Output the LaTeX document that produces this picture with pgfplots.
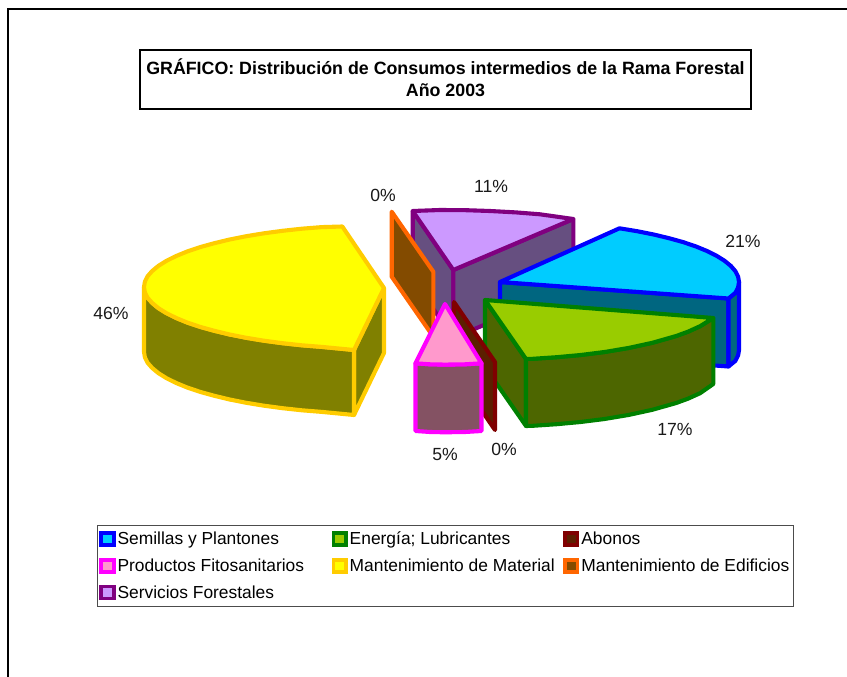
\documentclass[border=0pt]{standalone}
\usepackage{pgfplots}
\pgfplotsset{compat=1.18}
\usepackage{fontspec}
\setmainfont{Liberation Sans}
\definecolor{yS}{HTML}{FFCC00}\definecolor{yT}{HTML}{FFFF00}\definecolor{yD}{HTML}{808000}
\definecolor{bS}{HTML}{0000FF}\definecolor{bT}{HTML}{00CCFF}\definecolor{bD}{HTML}{006680}
\definecolor{gS}{HTML}{008000}\definecolor{gT}{HTML}{99CC00}\definecolor{gD}{HTML}{4D6600}
\definecolor{rS}{HTML}{800000}\definecolor{rD}{HTML}{5C1F00}
\definecolor{pS}{HTML}{FF00FF}\definecolor{pT}{HTML}{FF99CC}\definecolor{pD}{HTML}{845263}
\definecolor{vS}{HTML}{800080}\definecolor{vT}{HTML}{CC99FF}\definecolor{vD}{HTML}{664F80}
\definecolor{oS}{HTML}{FF6600}\definecolor{oD}{HTML}{834B00}
\pgfplotsset{
  face/.style 2 args={forget plot,draw=#1,fill=#2,line width=4.1pt,line join=round},
  swatch/.style 2 args={draw=#1,fill=#2,line width=3.6pt},
  legend image code/.code={\draw[#1] (2.5pt,-6pt) rectangle (15pt,6pt);},
}
\begin{document}
\begin{tikzpicture}
\begin{axis}[
  scale only axis,width=847pt,height=677pt,
  xmin=0,xmax=847,ymin=0,ymax=677,y dir=reverse,
  axis lines=none,
  legend columns=3,
  legend cell align=left,
  legend style={at={(axis cs:97,525)},anchor=north west,draw=black!70,line width=0.8pt,
    font=\fontsize{17.4}{20}\selectfont,
    inner xsep=2pt,inner ysep=4.7pt,
    /tikz/row sep=8.5pt,
    /tikz/column 2/.style={column sep=25.5pt},
    /tikz/column 4/.style={column sep=6.5pt}},
]
% page background
\addplot[forget plot,draw=none,fill=white] coordinates {(0,0)(847,0)(847,677)(0,677)} -- cycle;
% outer frame
\addplot[forget plot,draw=black,line width=2.4pt] coordinates {(8,677)(8,9)(847,9)};
% Servicios Forestales 11%
\addplot[face={vS}{vD}] coordinates {(412.7,211)(453.3,270)(453.3,338)(412.7,279)} -- cycle;
\addplot[face={vS}{vD}] coordinates {(453.3,270)(573.3,219)(573.3,287)(453.3,338)} -- cycle;
\addplot[face={vS}{vT}] coordinates {(453.3,270)(412.7,211)(440,210)(466,210.2)(490,211)(516,212.4)(540,214.3)(573.3,219)} -- cycle;
% Mantenimiento de Edificios 0%
\addplot[face={oS}{oD}] coordinates {(391.7,211.7)(433.3,271.7)(433.3,336.7)(391.7,276.7)} -- cycle;
% Semillas y Plantones 21%
\addplot[face={bS}{bD}] coordinates {(500,282)(728.5,298.5)(728.5,366.5)(500,350)} -- cycle;
\addplot[face={bS}{bD}] coordinates {(728.5,298.5)(735.4,292.8)(738.1,287.4)(739,282)(739,350)(738.1,355.4)(735.4,360.8)(728.5,366.5)} -- cycle;
\addplot[face={bS}{bT}] coordinates {(500,282)(619.5,228.3)(637.1,231.2)(653.7,234.5)(669,238.2)(683.1,242.1)(695.8,246.4)(707,251)(716.6,255.8)(724.6,260.8)(730.9,266)(735.4,271.2)(738.1,276.6)(739,282)(738.1,287.4)(735.4,292.8)(728.5,298.5)} -- cycle;
% Energia; Lubricantes 17%
\addplot[face={gS}{gD}] coordinates {(485,300)(526,359)(526,426)(485,367)} -- cycle;
\addplot[face={gS}{gD}] coordinates {(526,359)(532.8,358.8)(556.7,357.2)(580.6,355)(604.5,352)(628.4,348)(652.3,342.8)(676.2,336)(688.2,331.6)(700.1,326.2)(713.3,318)(713.3,384)(700.1,393.2)(688.2,398.6)(676.2,403)(652.3,409.8)(628.4,415)(604.5,419)(580.6,422)(556.7,424.2)(532.8,425.8)(526,426)} -- cycle;
\addplot[face={gS}{gT}] coordinates {(485,300)(713.3,318)(700.1,326.2)(688.2,331.6)(676.2,336)(652.3,342.8)(628.4,348)(604.5,352)(580.6,355)(556.7,357.2)(532.8,358.8)(526,359)} -- cycle;
% Abonos 0%
\addplot[face={rS}{rD}] coordinates {(454,302)(495,362)(495,430)(454,370)} -- cycle;
% Productos Fitosanitarios 5%
\addplot[face={pS}{pD}] coordinates {(415.5,363.3)(430,364.3)(445,364.6)(465,364.3)(481.5,363.3)(481.5,431)(465,432)(445,432.3)(430,432)(415.5,431)} -- cycle;
\addplot[face={pS}{pT}] coordinates {(445,304)(481.5,363.3)(465,364.3)(445,364.6)(430,364.3)(415.5,363.3)} -- cycle;
% Mantenimiento de Material 46%
\addplot[face={yS}{yD}] coordinates {(354,350)(384,288)(384,353)(354,415)} -- cycle;
\addplot[face={yS}{yD}] coordinates {(144,287)(144.9,292.4)(147.6,297.8)(152.2,303)(158.5,308.2)(166.5,313.2)(176.2,318)(187.4,322.6)(200.2,326.9)(214.3,330.8)(229.7,334.5)(246.3,337.8)(264,340.7)(282.6,343.2)(301.9,345.3)(321.9,346.9)(354,350)(354,415)(321.9,411.9)(301.9,410.3)(282.6,408.2)(264,405.7)(246.3,402.8)(229.7,399.5)(214.3,395.8)(200.2,391.9)(187.4,387.6)(176.2,383)(166.5,378.2)(158.5,373.2)(152.2,368)(147.6,362.8)(144.9,357.4)(144,352)} -- cycle;
\addplot[face={yS}{yT}] coordinates {(384,288)(342.3,226.5)(321.9,227.1)(301.9,228.7)(282.6,230.8)(264,233.3)(246.3,236.2)(229.7,239.5)(214.3,243.2)(200.2,247.1)(187.4,251.4)(176.2,256)(166.5,260.8)(158.5,265.8)(152.2,271)(147.6,276.2)(144.9,281.6)(144,287)(144.9,292.4)(147.6,297.8)(152.2,303)(158.5,308.2)(166.5,313.2)(176.2,318)(187.4,322.6)(200.2,326.9)(214.3,330.8)(229.7,334.5)(246.3,337.8)(264,340.7)(282.6,343.2)(301.9,345.3)(321.9,346.9)(354,350)} -- cycle;
% legend
\addlegendimage{swatch={bS}{bT}}\addlegendentry{Semillas y Plantones}
\addlegendimage{swatch={gS}{gT}}\addlegendentry{Energía; Lubricantes}
\addlegendimage{swatch={rS}{rD}}\addlegendentry{Abonos}
\addlegendimage{swatch={pS}{pT}}\addlegendentry{Productos Fitosanitarios}
\addlegendimage{swatch={yS}{yT}}\addlegendentry{Mantenimiento de Material}
\addlegendimage{swatch={oS}{oD}}\addlegendentry{Mantenimiento de Edificios}
\addlegendimage{swatch={vS}{vT}}\addlegendentry{Servicios Forestales}
% title
\node[draw=black,line width=2.4pt,minimum width=611pt,minimum height=59pt] at (axis cs:445.5,79.5) {};
\node[align=center,inner sep=0pt,font=\fontsize{17.8}{22}\selectfont\bfseries] at (axis cs:445.5,78)
  {GRÁFICO: Distribución de Consumos intermedios de la Rama Forestal\\Año 2003};
% percentages
\begin{scope}[every node/.style={font=\fontsize{17.6}{20}\selectfont,text=black!90}]
\node at (axis cs:743,241) {21\%};
\node at (axis cs:675,429) {17\%};
\node at (axis cs:504,449) {0\%};
\node at (axis cs:445,454) {5\%};
\node at (axis cs:111,313) {46\%};
\node at (axis cs:383,195) {0\%};
\node at (axis cs:491,186) {11\%};
\end{scope}
\end{axis}
\end{tikzpicture}
\end{document}
